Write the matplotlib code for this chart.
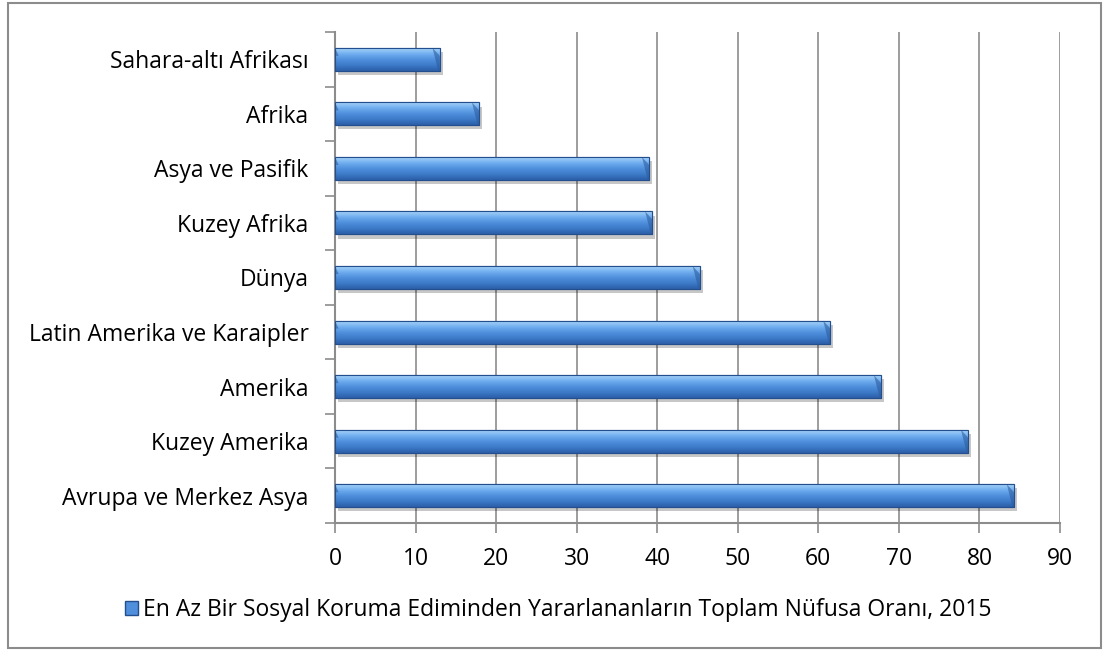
import matplotlib
matplotlib.use("Agg")
import matplotlib.pyplot as plt
import matplotlib.patheffects as pe
from matplotlib.patches import Rectangle, Polygon
from matplotlib.colors import LinearSegmentedColormap
import numpy as np

# Data (top to bottom as in the chart)
regions = [
    "Sahara-altı Afrikası",
    "Afrika",
    "Asya ve Pasifik",
    "Kuzey Afrika",
    "Dünya",
    "Latin Amerika ve Karaipler",
    "Amerika",
    "Kuzey Amerika",
    "Avrupa ve Merkez Asya",
]
values = [13.0, 17.9, 39.0, 39.4, 45.3, 61.5, 67.8, 78.6, 84.3]
xticks = [0, 10, 20, 30, 40, 50, 60, 70, 80, 90]
series_label = ("En Az Bir Sosyal Koruma Ediminden Yararlananların "
                "Toplam Nüfusa Oranı, 2015")

plt.rcParams['font.family'] = ['Open Sans', 'DejaVu Sans']
FS = 16.5

fig = plt.figure(figsize=(11.05, 6.53), dpi=100)
ax = fig.add_axes([335 / 1105, 1 - 523 / 653, (1060 - 335) / 1105, (523 - 32) / 653])

# outer chart frame
fig.patches.append(Rectangle((8 / 1105, 5 / 653), 1093 / 1105, 645 / 653,
                             transform=fig.transFigure, fill=False,
                             edgecolor='#8c8c8c', linewidth=1.5))

bar_h = 0.42
grad = LinearSegmentedColormap.from_list(
    'bar', ['#a6d2f7', '#70aef0', '#4f8fdc', '#3d7bc9', '#2c5ea8'])
ypos = np.arange(len(regions))

bars = ax.barh(ypos, values, height=bar_h, color='#4f8fdc',
               edgecolor='#244f8e', linewidth=0.8, zorder=3)
for b in bars:
    b.set_path_effects([pe.SimplePatchShadow(offset=(2, -3), shadow_rgbFace='#000000',
                                             alpha=0.22), pe.Normal()])

# vertical gradient inside each bar + bevelled ends
g = np.linspace(0, 1, 64).reshape(-1, 1)
for b, y, v in zip(bars, ypos, values):
    im = ax.imshow(g, cmap=grad, aspect='auto', interpolation='bicubic',
                   extent=(0, v, y + bar_h / 2, y - bar_h / 2), zorder=4)
    im.set_clip_path(b)
    bev = 0.9
    ax.add_patch(Polygon([(v - bev, y - bar_h / 2), (v, y - bar_h / 2 + bar_h * 0.35),
                          (v, y + bar_h / 2), (v - bev * 0.2, y + bar_h / 2)],
                         closed=True, facecolor='#2d5d9f', edgecolor='none',
                         alpha=0.6, zorder=5))
    ax.add_patch(Polygon([(0, y - bar_h / 2), (0.45, y - bar_h / 2 + bar_h * 0.35),
                          (0, y - bar_h / 2 + bar_h * 0.35)],
                         closed=True, facecolor='#2d5d9f', edgecolor='none',
                         alpha=0.6, zorder=5))
    ax.add_patch(Rectangle((0, y - bar_h / 2), v, bar_h, fill=False,
                           edgecolor='#244f8e', linewidth=0.8, zorder=6))

ax.set_xlim(0, 90)
ax.set_ylim(len(regions) - 0.5, -0.5)
ax.set_xticks(xticks)
ax.set_xticklabels([str(t) for t in xticks], fontsize=FS)
ax.set_yticks(ypos)
ax.set_yticklabels(regions, fontsize=FS)
ax.set_yticks(np.arange(-0.5, len(regions), 1), minor=True)
ax.tick_params(axis='y', which='major', length=0, pad=19)
ax.tick_params(axis='y', which='minor', length=7, width=1.2, color='#8c8c8c')
ax.tick_params(axis='x', length=7, width=1.2, color='#8c8c8c', pad=10)

ax.grid(axis='x', color='#8c8c8c', linewidth=1.2, zorder=0)
ax.set_axisbelow(True)
for s in ['top', 'right']:
    ax.spines[s].set_visible(False)
for s in ['left', 'bottom']:
    ax.spines[s].set_color('#8c8c8c')
    ax.spines[s].set_linewidth(1.5)

# legend
leg_handle = Rectangle((0, 0), 1, 1, facecolor='#4f8fdc', edgecolor='#244f8e')
fig.legend([leg_handle], [series_label], loc='center', bbox_to_anchor=(0.505, 1 - 610 / 653),
           frameon=False, fontsize=FS, handlelength=0.6, handleheight=0.6,
           handletextpad=0.2)

fig.savefig('out.png', dpi=100)
